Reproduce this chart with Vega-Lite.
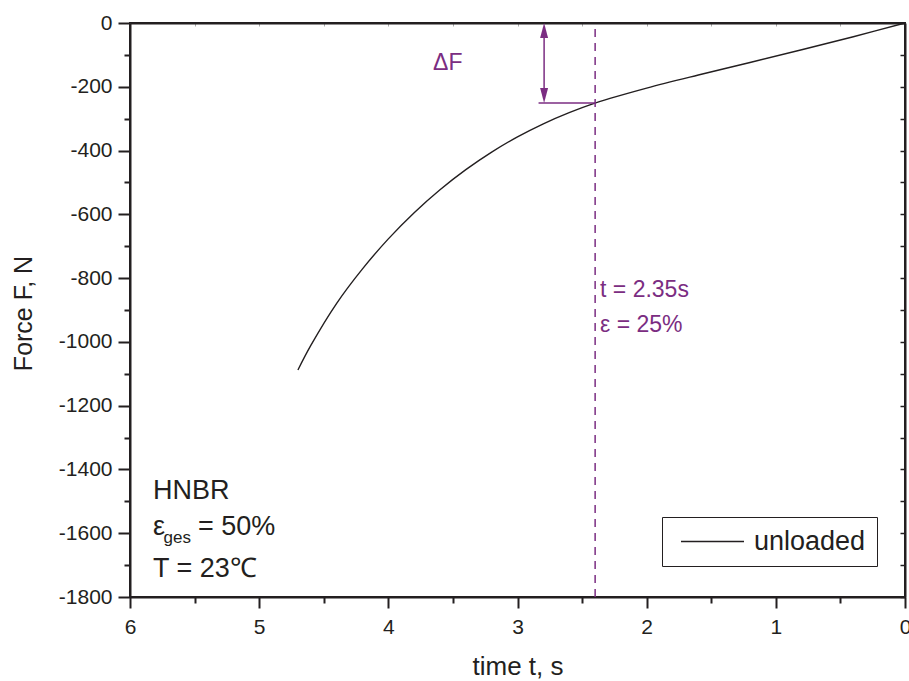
{
  "$schema": "https://vega.github.io/schema/vega-lite/v6.json",
  "width": 775,
  "height": 574,
  "autosize": {"type": "none"},
  "padding": {"left": 130, "top": 23, "right": 4, "bottom": 84},
  "background": "white",
  "config": {
    "font": "Liberation Sans",
    "view": {"stroke": "#231f20", "strokeWidth": 2},
    "axis": {"grid": false, "domainColor": "#231f20", "domainWidth": 2, "tickColor": "#231f20", "tickWidth": 2, "labelColor": "#231f20", "titleColor": "#231f20", "labelFont": "Liberation Sans", "titleFont": "Liberation Sans", "titleFontWeight": "normal"}
  },
  "layer": [
    {
      "data": {"values": [
        {"t": 4.7, "F": -1088, "series": "unloaded"},
        {"t": 4.6, "F": -1011, "series": "unloaded"},
        {"t": 4.4, "F": -879, "series": "unloaded"},
        {"t": 4.2, "F": -771, "series": "unloaded"},
        {"t": 4.0, "F": -677, "series": "unloaded"},
        {"t": 3.8, "F": -595, "series": "unloaded"},
        {"t": 3.6, "F": -523, "series": "unloaded"},
        {"t": 3.4, "F": -460, "series": "unloaded"},
        {"t": 3.2, "F": -405, "series": "unloaded"},
        {"t": 3.0, "F": -357, "series": "unloaded"},
        {"t": 2.8, "F": -316, "series": "unloaded"},
        {"t": 2.6, "F": -281, "series": "unloaded"},
        {"t": 2.4, "F": -251, "series": "unloaded"},
        {"t": 2.0, "F": -204, "series": "unloaded"},
        {"t": 1.6, "F": -163, "series": "unloaded"},
        {"t": 1.2, "F": -124, "series": "unloaded"},
        {"t": 0.8, "F": -84, "series": "unloaded"},
        {"t": 0.4, "F": -43, "series": "unloaded"},
        {"t": 0, "F": 0, "series": "unloaded"}
      ]},
      "mark": {"type": "line", "strokeWidth": 1.4, "interpolate": "catmull-rom"},
      "encoding": {
        "x": {"field": "t", "type": "quantitative", "scale": {"domain": [0, 6], "reverse": true, "nice": false, "zero": false},
          "axis": {"orient": "bottom", "title": "time t, s", "titleFontSize": 26, "titleY": 77, "titleBaseline": "alphabetic",
            "values": [0, 0.5, 1, 1.5, 2, 2.5, 3, 3.5, 4, 4.5, 5, 5.5, 6],
            "labelExpr": "datum.value % 1 === 0 ? '' + datum.value : ''",
            "tickSize": {"condition": {"test": "datum.value % 1 === 0", "value": 11}, "value": 6},
            "labelFontSize": 21, "labelPadding": 8, "labelFlush": false, "labelOverlap": false}},
        "y": {"field": "F", "type": "quantitative", "scale": {"domain": [-1800, 0], "nice": false, "zero": false},
          "axis": {"orient": "left", "title": "Force F, N", "titleFontSize": 25, "titleAngle": -90, "titleX": -99, "titleY": 290, "titleAlign": "center", "titleBaseline": "alphabetic",
            "values": [-1800, -1700, -1600, -1500, -1400, -1300, -1200, -1100, -1000, -900, -800, -700, -600, -500, -400, -300, -200, -100, 0],
            "labelExpr": "datum.value % 200 === 0 ? '' + datum.value : ''",
            "tickSize": {"condition": {"test": "datum.value % 200 === 0", "value": 12}, "value": 6},
            "labelFontSize": 21, "labelPadding": 6, "labelFlush": false, "labelOverlap": false}},
        "color": {"field": "series", "type": "nominal", "scale": {"domain": ["unloaded"], "range": ["#231f20"]},
          "legend": {"title": null, "orient": "none", "legendX": 532, "legendY": 494, "symbolType": "stroke", "symbolSize": 3969, "symbolStrokeWidth": 1.5, "symbolOffset": 7, "clipHeight": 27, "labelFontSize": 27, "labelFont": "Liberation Sans", "labelColor": "#231f20", "labelOffset": 9, "padding": 11, "strokeColor": "#231f20", "fillColor": "white", "cornerRadius": 0}}
      }
    },
    {
      "data": {"values": [{"t": 2.399, "F1": -1800, "F2": 0}]},
      "mark": {"type": "rule", "color": "#7b2d82", "strokeWidth": 1.5, "strokeDash": [8, 6]},
      "encoding": {
        "x": {"field": "t", "type": "quantitative",
          "axis": {"orient": "top", "title": null, "labels": false, "values": [0, 0.5, 1, 1.5, 2, 2.5, 3, 3.5, 4, 4.5, 5, 5.5, 6], "tickSize": -3, "tickColor": "#aaaaaa", "tickWidth": 1}},
        "y": {"field": "F1", "type": "quantitative",
          "axis": {"orient": "right", "title": null, "labels": false, "values": [-1800, -1700, -1600, -1500, -1400, -1300, -1200, -1100, -1000, -900, -800, -700, -600, -500, -400, -300, -200, -100, 0], "tickSize": -5, "tickWidth": 1.5}},
        "y2": {"field": "F2"}
      }
    },
    {
      "data": {"values": [{"t1": 2.837, "t2": 2.399, "F": -251}]},
      "mark": {"type": "rule", "color": "#7b2d82", "strokeWidth": 1.5},
      "encoding": {
        "x": {"field": "t1", "type": "quantitative", "axis": null},
        "x2": {"field": "t2"},
        "y": {"field": "F", "type": "quantitative", "axis": null}
      }
    },
    {
      "data": {"values": [{"t": 2.794, "F1": -20, "F2": -232}]},
      "mark": {"type": "rule", "color": "#7b2d82", "strokeWidth": 1.5},
      "encoding": {
        "x": {"field": "t", "type": "quantitative", "axis": null},
        "y": {"field": "F1", "type": "quantitative", "axis": null},
        "y2": {"field": "F2"}
      }
    },
    {
      "data": {"values": [{"t": 2.794, "F": -23.5}]},
      "mark": {"type": "point", "shape": "M0,-1L0.53,1L-0.53,1Z", "size": 225, "filled": true, "color": "#7b2d82", "opacity": 1},
      "encoding": {
        "x": {"field": "t", "type": "quantitative", "axis": null},
        "y": {"field": "F", "type": "quantitative", "axis": null}
      }
    },
    {
      "data": {"values": [{"t": 2.794, "F": -227.6}]},
      "mark": {"type": "point", "shape": "M0,1L0.53,-1L-0.53,-1Z", "size": 225, "filled": true, "color": "#7b2d82", "opacity": 1},
      "encoding": {
        "x": {"field": "t", "type": "quantitative", "axis": null},
        "y": {"field": "F", "type": "quantitative", "axis": null}
      }
    },
    {
      "data": {"values": [{"t": 3.54, "F": -125, "label": "ΔF"}]},
      "mark": {"type": "text", "fontSize": 23, "color": "#7b2d82", "align": "center", "baseline": "middle"},
      "encoding": {
        "x": {"field": "t", "type": "quantitative", "axis": null},
        "y": {"field": "F", "type": "quantitative", "axis": null},
        "text": {"field": "label"}
      }
    },
    {
      "data": {"values": [
        {"t": 2.361, "F": -859, "label": "t = 2.35s"},
        {"t": 2.361, "F": -968, "label": "ε = 25%"}
      ]},
      "mark": {"type": "text", "fontSize": 23, "color": "#7b2d82", "align": "left", "baseline": "alphabetic"},
      "encoding": {
        "x": {"field": "t", "type": "quantitative", "axis": null},
        "y": {"field": "F", "type": "quantitative", "axis": null},
        "text": {"field": "label"}
      }
    },
    {
      "data": {"values": [
        {"t": 5.822, "F": -1494, "label": "HNBR"},
        {"t": 5.822, "F": -1606, "label": "ε"},
        {"t": 5.473, "F": -1606, "label": "= 50%"},
        {"t": 5.822, "F": -1737, "label": "T = 23℃"}
      ]},
      "mark": {"type": "text", "fontSize": 27, "color": "#231f20", "align": "left", "baseline": "alphabetic"},
      "encoding": {
        "x": {"field": "t", "type": "quantitative", "axis": null},
        "y": {"field": "F", "type": "quantitative", "axis": null},
        "text": {"field": "label"}
      }
    },
    {
      "data": {"values": [{"t": 5.740, "F": -1631, "label": "ges"}]},
      "mark": {"type": "text", "fontSize": 17, "color": "#231f20", "align": "left", "baseline": "alphabetic"},
      "encoding": {
        "x": {"field": "t", "type": "quantitative", "axis": null},
        "y": {"field": "F", "type": "quantitative", "axis": null},
        "text": {"field": "label"}
      }
    }
  ]
}
